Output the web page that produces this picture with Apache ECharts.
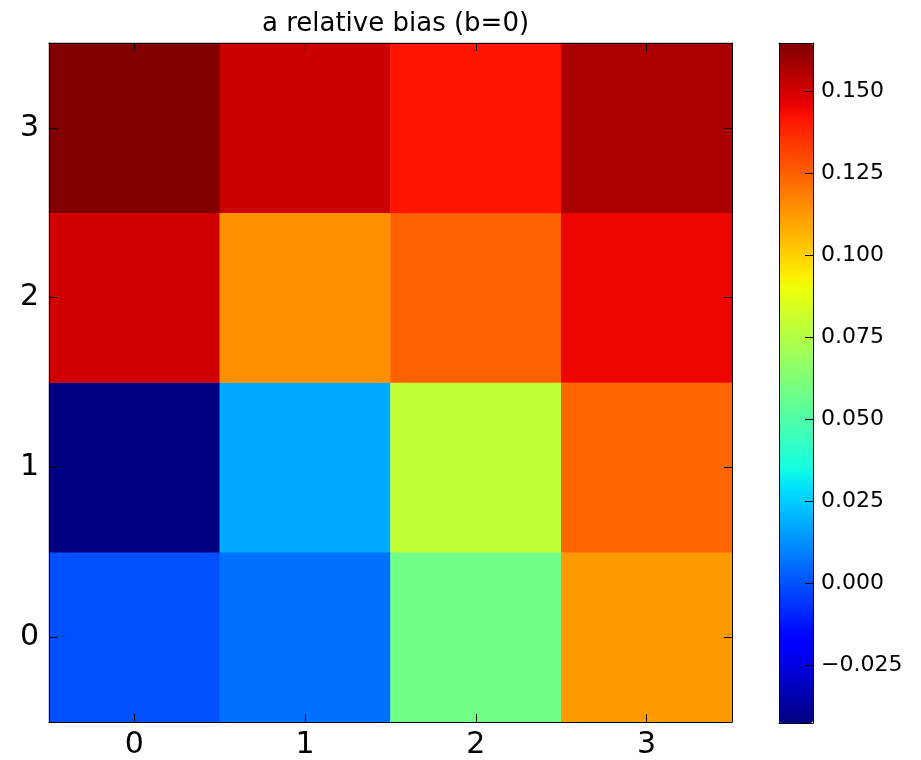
<!DOCTYPE html>
<html>
<head>
<meta charset="utf-8">
<script src="https://cdn.jsdelivr.net/npm/echarts@6/dist/echarts.min.js"></script>
<style>html,body{margin:0;padding:0;background:#fff}#c{width:921px;height:760px}</style>
</head>
<body>
<div id="c"></div>
<script>
const xCategories = ['0', '1', '2', '3'];
const yCategories = ['0', '1', '2', '3'];
// values per row (row index = y category), columns = x category
const row0 = [-0.0007, 0.0060, 0.0582, 0.1124];
const row1 = [-0.0427, 0.0178, 0.0784, 0.1236];
const row2 = [0.1502, 0.1140, 0.1248, 0.1449];
const row3 = [0.1646, 0.1509, 0.1416, 0.1569];
const colorbarTicks = [-0.025, 0.000, 0.025, 0.050, 0.075, 0.100, 0.125, 0.150];
const titleText = 'a relative bias (b=0)';

const rows = [row0, row1, row2, row3];
const data = [];
rows.forEach((r, yi) => r.forEach((v, xi) => data.push([xi, yi, v])));
const all = rows.flat();
const vmin = Math.min(...all), vmax = Math.max(...all);

// jet colormap (matplotlib segment data)
function seg(pts, t) {
  for (let i = 1; i < pts.length; i++) {
    if (t <= pts[i][0]) {
      const [x0, y0] = pts[i - 1], [x1, y1] = pts[i];
      return y0 + (y1 - y0) * (t - x0) / (x1 - x0);
    }
  }
  return pts[pts.length - 1][1];
}
const R = [[0, 0], [0.35, 0], [0.66, 1], [0.89, 1], [1, 0.5]];
const G = [[0, 0], [0.125, 0], [0.375, 1], [0.64, 1], [0.91, 0], [1, 0]];
const B = [[0, 0.5], [0.11, 1], [0.34, 1], [0.65, 0], [1, 0]];
const jetColors = [];
for (let i = 0; i <= 200; i++) {
  const t = i / 200;
  const c = [seg(R, t), seg(G, t), seg(B, t)].map(v => Math.round(v * 255));
  jetColors.push('rgb(' + c.join(',') + ')');
}

const font = 'DejaVu Sans';
const tickCommon = { show: true, inside: true, length: 8, lineStyle: { color: '#000', width: 1 }, alignWithLabel: true };
const lineCommon = { show: true, onZero: false, lineStyle: { color: '#000', width: 1 } };

const chart = echarts.init(document.getElementById('c'), null, { renderer: 'canvas' });
chart.setOption({
  backgroundColor: '#fff',
  animation: false,
  title: {
    text: titleText, left: 390.5, textAlign: 'center', top: 6,
    textStyle: { fontFamily: font, fontSize: 26, fontWeight: 'normal', color: '#000' }
  },
  grid: [
    { left: 49, top: 43, width: 683, height: 680 },
    { left: 779, top: 43, width: 34, height: 680 }
  ],
  xAxis: [
    { type: 'category', data: xCategories, gridIndex: 0, position: 'bottom', z: 10,
      axisLine: lineCommon, axisTick: tickCommon,
      axisLabel: { fontFamily: font, fontSize: 30, color: '#000', margin: 8 }, splitLine: { show: false } },
    { type: 'category', data: xCategories, gridIndex: 0, position: 'top', z: 10,
      axisLine: lineCommon, axisTick: tickCommon, axisLabel: { show: false }, splitLine: { show: false } },
    { type: 'value', gridIndex: 1, min: 0, max: 1, position: 'bottom', z: 10,
      axisLine: lineCommon, axisTick: { show: false }, axisLabel: { show: false }, splitLine: { show: false } },
    { type: 'value', gridIndex: 1, min: 0, max: 1, position: 'top', z: 10,
      axisLine: lineCommon, axisTick: { show: false }, axisLabel: { show: false }, splitLine: { show: false } }
  ],
  yAxis: [
    { type: 'category', data: yCategories, gridIndex: 0, position: 'left', z: 10,
      axisLine: lineCommon, axisTick: tickCommon,
      axisLabel: { fontFamily: font, fontSize: 30, color: '#000', margin: 10 }, splitLine: { show: false } },
    { type: 'category', data: yCategories, gridIndex: 0, position: 'right', z: 10,
      axisLine: lineCommon, axisTick: tickCommon, axisLabel: { show: false }, splitLine: { show: false } },
    { type: 'value', gridIndex: 1, min: vmin, max: vmax, position: 'right', z: 10,
      axisLine: lineCommon,
      axisTick: { show: true, inside: true, length: 8, lineStyle: { color: '#000' }, customValues: colorbarTicks },
      axisLabel: { fontFamily: font, fontSize: 22, color: '#000', margin: 8, customValues: colorbarTicks,
        formatter: v => (v < 0 ? '\u2212' : '') + Math.abs(v).toFixed(3) },
      splitLine: { show: false } },
    { type: 'value', gridIndex: 1, min: vmin, max: vmax, position: 'left', z: 10,
      axisLine: lineCommon, axisTick: { show: false }, axisLabel: { show: false }, splitLine: { show: false } }
  ],
  visualMap: {
    type: 'continuous', min: vmin, max: vmax, seriesIndex: 0,
    calculable: false, realtime: false, hoverLink: false,
    left: 779, top: 43, itemWidth: 34, itemHeight: 680, padding: 0,
    text: null, showLabel: false, orient: 'vertical',
    inRange: { color: jetColors }
  },
  series: [{
    type: 'heatmap', xAxisIndex: 0, yAxisIndex: 0, data: data,
    itemStyle: { borderWidth: 0 }, emphasis: { disabled: true }
  }]
});
</script>
</body>
</html>
